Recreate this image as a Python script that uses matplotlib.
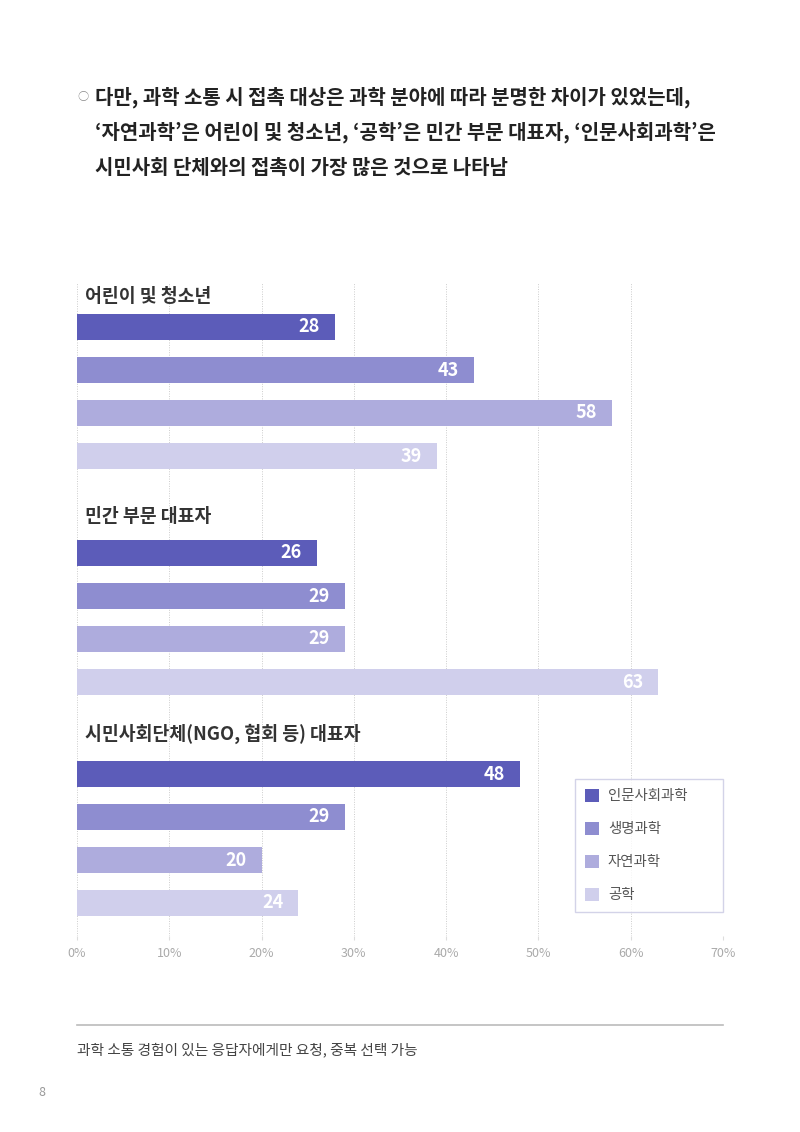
import matplotlib.pyplot as plt
from matplotlib.lines import Line2D
from matplotlib.patches import Patch

plt.rcParams['font.family'] = ['Noto Sans CJK KR', 'DejaVu Sans']

# data
groups = ['어린이 및 청소년', '민간 부문 대표자', '시민사회단체(NGO, 협회 등) 대표자']
fields = ['인문사회과학', '생명과학', '자연과학', '공학']
values = [
    [28, 43, 58, 39],
    [26, 29, 29, 63],
    [48, 29, 20, 24],
]
xticks = [0, 10, 20, 30, 40, 50, 60, 70]
colors = ['#5c5cb9', '#8e8dd0', '#aeacdd', '#d0cfec']

header = [
    '다만, 과학 소통 시 접촉 대상은 과학 분야에 따라 분명한 차이가 있었는데,',
    '‘자연과학’은 어린이 및 청소년, ‘공학’은 민간 부문 대표자, ‘인문사회과학’은',
    '시민사회 단체와의 접촉이 가장 많은 것으로 나타남',
]
note = '과학 소통 경험이 있는 응답자에게만 요청, 중복 선택 가능'

W, H = 800, 1132
fig = plt.figure(figsize=(W / 100, H / 100), dpi=100)

def fx(px):
    return px / W

def fy(py):
    return 1 - py / H

# header text
fig.text(fx(83), fy(97), '○', fontsize=8, color='#888888', ha='center', va='center')
for k, line in enumerate(header):
    fig.text(fx(95), fy(97 + k * 35), line, fontsize=14.4, color='#222222',
             ha='left', va='center', fontweight='bold')

# chart area, y in page pixels
top, bottom = 283, 936
ax = fig.add_axes([fx(77), fy(bottom), fx(723) - fx(77), (bottom - top) / H])
ax.set_xlim(0, 70)
ax.set_ylim(bottom, top)

group_y = [327, 553, 774]
title_y = [296, 517, 734]
bar_step = 43
bar_h = 26

for g, name in enumerate(groups):
    ax.text(0.9, title_y[g], name, fontsize=13.2, fontweight='bold', color='#333333',
            ha='left', va='center')
    for i, v in enumerate(values[g]):
        y = group_y[g] + i * bar_step
        ax.barh(y, v, height=bar_h, color=colors[i], zorder=2)
        ax.annotate(str(v), (v, y), xytext=(-11, 0), textcoords='offset points',
                    ha='right', va='center', color='white', fontsize=13,
                    fontweight='bold', zorder=3)

ax.set_xticks(xticks)
ax.set_xticklabels([f'{t}%' for t in xticks], fontsize=9, color='#aaaaaa')
ax.set_yticks([])
ax.tick_params(axis='x', length=3, color='#dddddd', pad=5)
ax.grid(axis='x', color='#cccccc', linestyle=(0, (1, 1.5)), linewidth=0.7, zorder=0)
for s in ax.spines.values():
    s.set_visible(False)

handles = [Patch(facecolor=c, edgecolor='none') for c in colors]
leg = ax.legend(handles, fields, loc='lower left', mode='expand',
                bbox_to_anchor=(fx(575), fy(912), fx(723) - fx(575), (912 - 780) / H),
                bbox_transform=fig.transFigure,
                borderaxespad=0, fontsize=10.4, frameon=True, fancybox=False,
                handlelength=1.0, handleheight=1.0, handletextpad=0.6,
                labelspacing=1.28, borderpad=0.68)
leg.get_frame().set_edgecolor('#c9c8e3')
leg.get_frame().set_linewidth(1.0)
for t in leg.get_texts():
    t.set_color('#555555')

# footer
fig.add_artist(Line2D([fx(77), fx(723)], [fy(1025), fy(1025)], color='#bbbbbb',
                      linewidth=1.2, transform=fig.transFigure))
fig.text(fx(77), fy(1050), note, fontsize=10.6, color='#444444', ha='left', va='center')
fig.text(fx(42), fy(1093), '8', fontsize=9, color='#999999', ha='center', va='center')

fig.savefig('out.png', dpi=100, facecolor='white')
